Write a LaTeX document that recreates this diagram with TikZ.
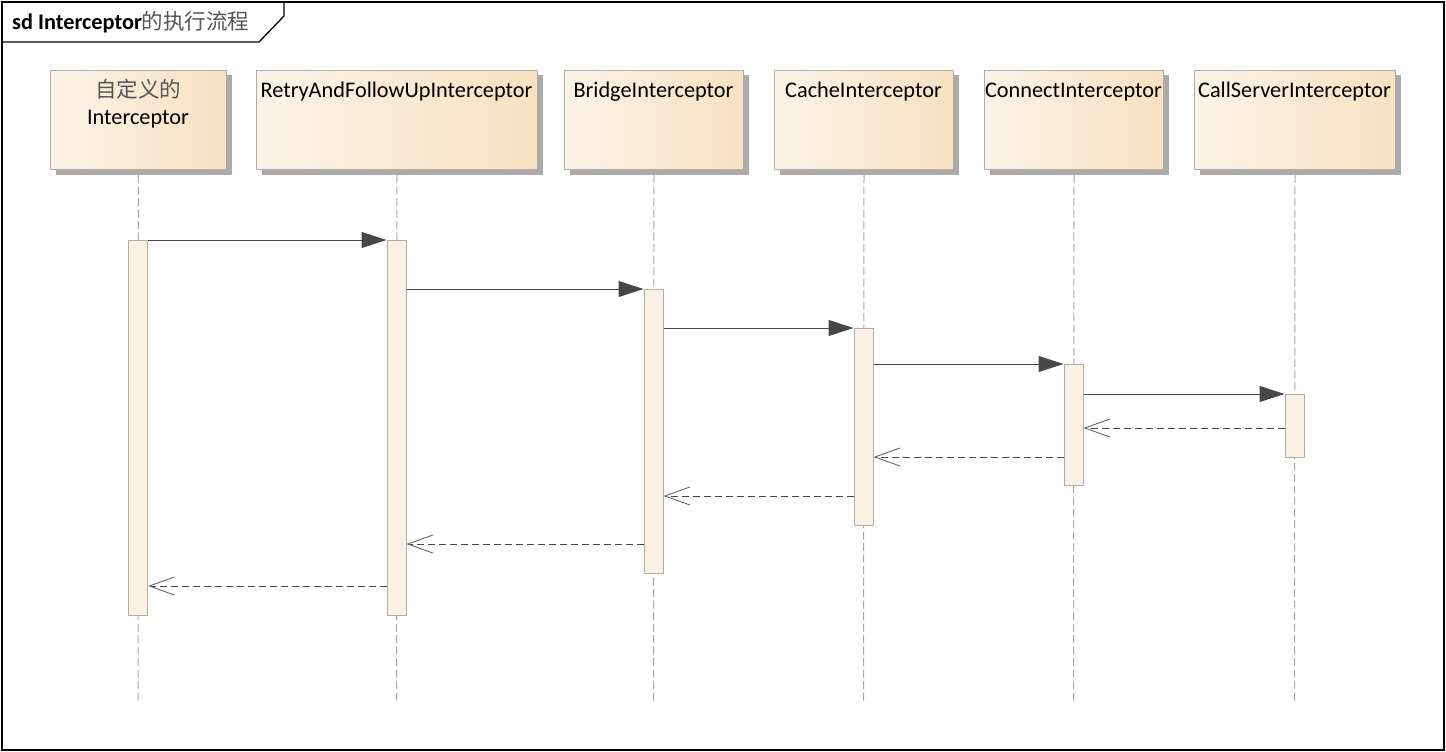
\documentclass[tikz,border=0pt]{standalone}
\usepackage{fontspec}
\setmainfont{Carlito}
\newfontfamily\cjk{Noto Sans CJK SC}
\usetikzlibrary{arrows.meta,shadows,calc}
\definecolor{headL}{HTML}{FBF3E8}
\definecolor{headR}{HTML}{F8E1C0}
\definecolor{edgec}{HTML}{B4ACA4}
\definecolor{shadec}{HTML}{ABABAB}
\definecolor{barfill}{HTML}{FBF1E3}
\definecolor{msgc}{HTML}{474747}
\definecolor{lifec}{HTML}{A8A8A8}
\definecolor{cjkc}{HTML}{555555}
\begin{document}
\begin{tikzpicture}[x=1pt,y=-1pt,
  head/.style={draw=edgec, line width=1pt, left color=headL, right color=headR,
    minimum height=99pt, inner sep=0pt, anchor=north west,
    general shadow={fill=shadec, shadow xshift=5pt, shadow yshift=-5pt}},
  lbl/.style={anchor=base, inner sep=0pt, font=\fontsize{22.3}{26}\selectfont},
  bar/.style={draw=edgec, line width=1pt, fill=barfill, minimum width=19pt,
    inner sep=0pt, anchor=north},
  lifeline/.style={draw=lifec, line width=1pt, dash pattern=on 8pt off 3.5pt},
  call/.style={draw=msgc, line width=1pt, -{Triangle[length=25pt,width=16pt]}},
  ret/.style={draw=msgc, line width=1pt, dash pattern=on 7pt off 4pt,
    -{Straight Barb[length=25pt,width=18pt,line width=0.9pt,color=gray!80!black]}},
  framec/.style={draw=black, line width=1.3pt}]
\useasboundingbox (0,0) rectangle (1446,752);
\fill[white] (0,0) rectangle (1446,752);
% frame
\draw[framec] (2,2) rectangle (1444,750);
\draw[framec] (2,42) -- (259,42) -- (284,16) -- (284,2);
\node[anchor=base west, inner sep=0pt, font=\fontsize{22.3}{26}\selectfont] (title) at (12,30)
  {\bfseries sd Interceptor{\cjk\mdseries\fontsize{21.5}{26}\selectfont\color{cjkc}的执行流程}};
% heads
\node[head, minimum width=176pt] (h1) at (50,70) {};
\node[head, minimum width=281pt] (h2) at (256,70) {};
\node[head, minimum width=179pt] (h3) at (564,70) {};
\node[head, minimum width=179pt] (h4) at (774,70) {};
\node[head, minimum width=179pt] (h5) at (984,70) {};
\node[head, minimum width=201pt] (h6) at (1194,70) {};
\node[lbl] (t1a) at (138,98) {\cjk\fontsize{21.5}{26}\selectfont\color{cjkc}自定义的};
\node[lbl] (t1b) at (138,124) {Interceptor};
\node[lbl] (t2) at (396.5,98) {RetryAndFollowUpInterceptor};
\node[lbl] (t3) at (653.5,98) {BridgeInterceptor};
\node[lbl] (t4) at (863.5,98) {CacheInterceptor};
\node[lbl] (t5) at (1073.5,98) {ConnectInterceptor};
\node[lbl] (t6) at (1294.5,98) {CallServerInterceptor};
% lifeline ends
\coordinate (e1) at (138,702);
\coordinate (e2) at (396.5,702);
\coordinate (e3) at (653.5,702);
\coordinate (e4) at (863.5,702);
\coordinate (e5) at (1073.5,702);
\coordinate (e6) at (1294.5,702);
\foreach \i in {1,...,6} {\draw[lifeline, shorten <=5pt] (h\i.south) -- (e\i);}
% activation bars
\node[bar, minimum height=375pt] (b1) at (138,240) {};
\node[bar, minimum height=375pt] (b2) at (396.5,240) {};
\node[bar, minimum height=284pt] (b3) at (653.5,289) {};
\node[bar, minimum height=197pt] (b4) at (863.5,328) {};
\node[bar, minimum height=121pt] (b5) at (1073.5,364) {};
\node[bar, minimum height=63pt] (b6) at (1294.5,394) {};
% calls
\draw[call] (b1.north east) -- (b2.north west);
\draw[call] (b2.east |- b3.north) -- (b3.north west);
\draw[call] (b3.east |- b4.north) -- (b4.north west);
\draw[call] (b4.east |- b5.north) -- (b5.north west);
\draw[call] (b5.east |- b6.north) -- (b6.north west);
% returns
\coordinate (y1) at (0,428);
\coordinate (y2) at (0,457);
\coordinate (y3) at (0,496);
\coordinate (y4) at (0,544);
\coordinate (y5) at (0,586);
\draw[ret] (b6.west |- y1) -- (b5.east |- y1);
\draw[ret] (b5.west |- y2) -- (b4.east |- y2);
\draw[ret] (b4.west |- y3) -- (b3.east |- y3);
\draw[ret] (b3.west |- y4) -- (b2.east |- y4);
\draw[ret] (b2.west |- y5) -- (b1.east |- y5);
\end{tikzpicture}
\end{document}
